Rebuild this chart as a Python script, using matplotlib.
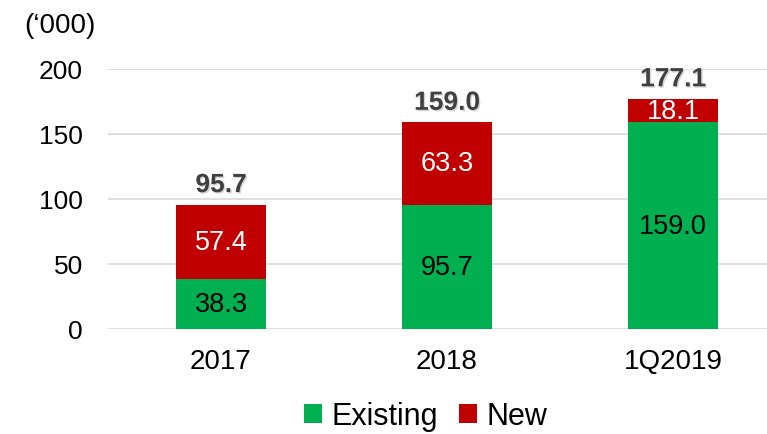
import matplotlib.pyplot as plt
import matplotlib.patheffects as pe

plt.rcParams['font.family'] = ['Liberation Sans', 'DejaVu Sans']

# Data
categories = ['2017', '2018', '1Q2019']
existing = [38.3, 95.7, 159.0]
new = [57.4, 63.3, 18.1]
totals = [95.7, 159.0, 177.1]

green = '#00B050'
red = '#C00000'

fig = plt.figure(figsize=(7.67, 4.35), dpi=100)
ax = fig.add_axes([0.1408, 0.2414, 0.8592, 0.5977])

x = range(len(categories))
ax.bar(x, existing, width=0.4, color=green, label='Existing', zorder=3)
ax.bar(x, new, width=0.4, bottom=existing, color=red, label='New', zorder=3)

for i in x:
    ax.text(i, existing[i] / 2, f'{existing[i]:.1f}', ha='center', va='center',
            fontsize=19.5, color='black', zorder=4)
    ax.text(i, existing[i] + new[i] / 2, f'{new[i]:.1f}', ha='center', va='center',
            fontsize=19.5, color='white', zorder=4)
    ax.text(i, totals[i] + 15, f'{totals[i]:.1f}', ha='center', va='center',
            fontsize=19, fontweight='bold', color='#404040', zorder=4,
            path_effects=[pe.withSimplePatchShadow(offset=(1, -1),
                                                   shadow_rgbFace='#aaaaaa', alpha=0.5)])

ax.set_ylim(0, 200)
ax.set_xlim(-0.5, 2.416)
ax.set_yticks([0, 50, 100, 150, 200])
ax.set_xticks(list(x))
ax.set_xticklabels(categories)
ax.tick_params(axis='both', length=0, labelsize=19)
ax.tick_params(axis='x', pad=14, labelsize=20)
ax.tick_params(axis='y', pad=18)
ax.grid(axis='y', color='#d9d9d9', linewidth=1.2, zorder=0)
for s in ax.spines.values():
    s.set_visible(False)

fig.text(0.078, 0.94, '(\u2018000)', fontsize=20, ha='center', va='center')

ax.legend(loc='center', bbox_to_anchor=(0.482, -0.335), ncol=2, frameon=False,
          fontsize=22, handlelength=0.6, handleheight=0.6, handletextpad=0.3,
          columnspacing=0.7)

fig.savefig('out.png', dpi=100)
